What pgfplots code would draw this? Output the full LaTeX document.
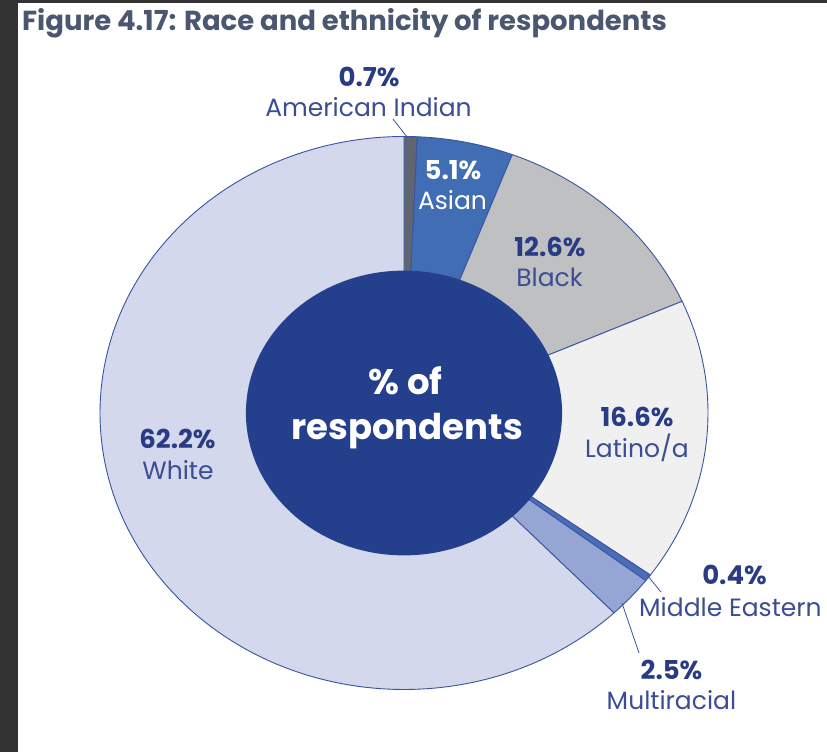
\documentclass[border=0pt]{standalone}
\usepackage{pgfplots}
\pgfplotsset{compat=1.18}
\usepackage{pgfplotstable}
\usepackage{fontspec}
\setmainfont{Poppins}

\definecolor{cAI}{HTML}{5F6670}
\definecolor{cAS}{HTML}{416DB4}
\definecolor{cBL}{HTML}{BFC0C2}
\definecolor{cLA}{HTML}{F0F0F0}
\definecolor{cME}{HTML}{4B6CB7}
\definecolor{cMU}{HTML}{95A6D5}
\definecolor{cWH}{HTML}{D3D8EC}
\definecolor{cCenter}{HTML}{243F8B}
\definecolor{cBorder}{HTML}{3A559F}
\definecolor{cPct}{HTML}{2A3B85}
\definecolor{cName}{HTML}{3B4D94}
\definecolor{cTitle}{HTML}{4B5770}
\definecolor{cDark}{HTML}{333333}

% share of respondents, clockwise from 12 o'clock
\pgfplotstableread{
group pct col
AmericanIndian 0.7 cAI
Asian 5.1 cAS
Black 12.6 cBL
Latinoa 16.6 cLA
MiddleEastern 0.4 cME
Multiracial 2.5 cMU
White 62.2 cWH
}\racetable

\newcommand\pctlab[4][cPct]{\node[anchor=base, inner sep=0pt, text=#1, font=\fontsize{26}{30}\selectfont\bfseries] at (#2pt,{752pt-#3pt}) {#4};}
\newcommand\namelab[4][cName]{\node[anchor=base, inner sep=0pt, text=#1, font=\fontsize{25}{29}\selectfont] at (#2pt,{752pt-#3pt}) {#4};}

\begin{document}
\begin{tikzpicture}
\useasboundingbox (0,0) rectangle (827pt,752pt);
\clip (0,0) rectangle (827pt,752pt);
\fill[white] (0,0) rectangle (827pt,752pt);
\begin{axis}[
  at={(0pt,0pt)}, anchor=south west,
  scale only axis, width=827pt, height=752pt,
  xmin=-1.328947, xmax=1.391447,
  ymin=-1.226040, ymax=1.493671,
  hide axis, clip=false]
  \pgfmathsetmacro\degper{360/100.1}
  \def\cum{0}
  \pgfplotsforeachungrouped \i in {0,...,6}{%
    \pgfplotstablegetelem{\i}{pct}\of\racetable \let\slicepct\pgfplotsretval
    \pgfplotstablegetelem{\i}{col}\of\racetable \let\slicecol\pgfplotsretval
    \pgfmathsetmacro\aA{90-\degper*\cum}%
    \pgfmathsetmacro\cum{\cum+\slicepct}%
    \pgfmathsetmacro\aB{90-\degper*\cum}%
    \pgfmathsetmacro\xA{cos(\aA)}%
    \pgfmathsetmacro\yA{sin(\aA)}%
    \edef\doslice{\noexpand\filldraw[fill=\slicecol, draw=cBorder, line width=0.9pt, line join=round]
      (axis cs:0,0) -- (axis cs:\xA,\yA) arc[start angle=\aA, end angle=\aB, x radius=1, y radius=1] -- cycle;}%
    \doslice
  }
  \fill[cCenter] (axis cs:0,0) ellipse [x radius=0.52, y radius=0.515];
\end{axis}
% frame strips
\fill[cDark] (0,0) rectangle (17.5pt,752pt);
\fill[cDark] (0,749pt) rectangle (827pt,752pt);
% title
\node[anchor=base west, inner sep=0pt, text=cTitle, font=\fontsize{27.5}{31}\selectfont\bfseries] at (22pt,{752pt-31pt}) {Figure 4.17: Race and ethnicity of respondents};
% leader lines
\draw[cBorder, line width=0.8pt] (393pt,{752pt-119pt}) -- (407pt,{752pt-137pt});
\draw[cBorder, line width=0.8pt] (647pt,{752pt-575pt}) -- (661pt,{752pt-592pt});
\draw[cBorder, line width=0.8pt] (622pt,{752pt-603pt}) -- (639pt,{752pt-653pt});
% labels
\pctlab{369}{87}{0.7\%}
\namelab{368.5}{117}{American Indian}
\pctlab[white]{453}{180}{5.1\%}
\namelab[white]{452.5}{210}{Asian}
\pctlab{550}{257}{12.6\%}
\namelab{549.5}{287}{Black}
\pctlab{637}{427}{16.6\%}
\namelab{637}{458}{Latino/a}
\pctlab{734.5}{585}{0.4\%}
\node[anchor=base west, inner sep=0pt, text=cName, font=\fontsize{25}{29}\selectfont] at (639pt,{752pt-617pt}) {Middle Eastern};
\pctlab{671.5}{680}{2.5\%}
\namelab{671.5}{710}{Multiracial}
\pctlab{177.5}{449}{62.2\%}
\namelab{178}{480}{White}
\node[anchor=base, inner sep=0pt, text=white, font=\fontsize{35.5}{40}\selectfont\bfseries] at (405.5pt,{752pt-395pt}) {\% of};
\node[anchor=base, inner sep=0pt, text=white, font=\fontsize{35.5}{40}\selectfont\bfseries] at (407pt,{752pt-440pt}) {respondents};
\end{tikzpicture}
\end{document}
